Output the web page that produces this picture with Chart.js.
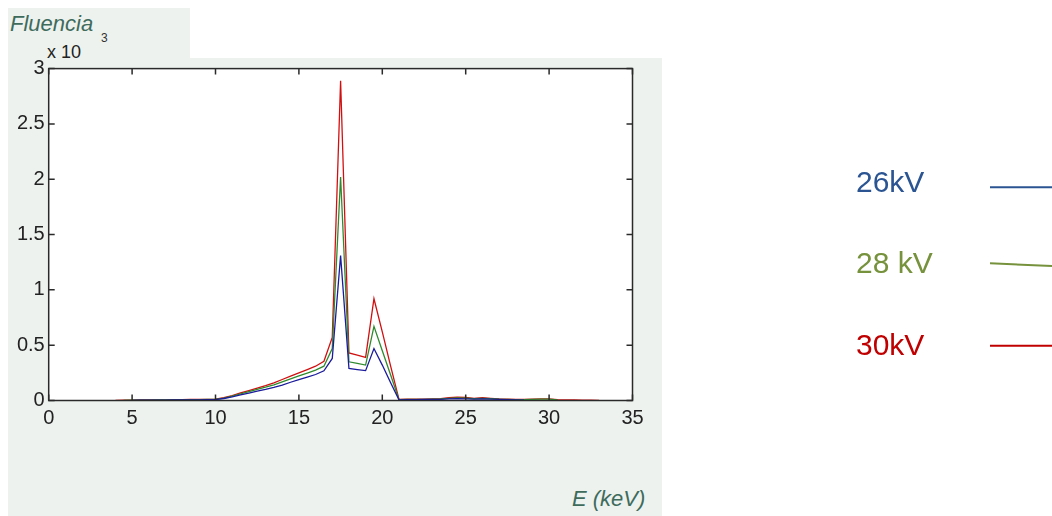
<!DOCTYPE html>
<html>
<head>
<meta charset="utf-8">
<script src="https://cdn.jsdelivr.net/npm/chart.js@4/dist/chart.umd.min.js"></script>
<style>
    html, body { margin: 0; padding: 0; background: #fff; }
    #stage { position: relative; width: 1052px; height: 516px; overflow: hidden; font-family: "Liberation Sans", Arial, sans-serif; }
    .panel { position: absolute; background: #edf2ee; }
    #chart { position: absolute; left: 0; top: 0; }
    .txt { position: absolute; white-space: nowrap; line-height: 1; }
    .leg { position: absolute; font-size: 30px; line-height: 1; }
</style>
</head>
<body>
<div id="stage">
    <div class="panel" style="left:8px; top:8px; width:182px; height:52px;"></div>
    <div class="panel" style="left:8px; top:58px; width:654px; height:458px;"></div>
    <div class="panel" style="left:48px; top:68px; width:585px; height:333px; background:#fff;"></div>

    <div class="txt" style="left:10px; top:13px; font-size:22px; font-style:italic; color:#3e6b5c;">Fluencia</div>
    <div class="txt" style="left:101px; top:32px; font-size:12px; color:#333;">3</div>
    <div class="txt" style="left:47px; top:43px; font-size:18px; color:#222;">x 10</div>
    <div class="txt" style="left:572px; top:488px; font-size:22px; font-style:italic; color:#3e6b5c;">E (keV)</div>

    <canvas id="chart" width="1052" height="516"></canvas>

    <div class="leg" style="left:856px; top:167px; color:#2b5592;">26kV</div>
    <div class="leg" style="left:856px; top:248px; color:#76923c;">28 kV</div>
    <div class="leg" style="left:856px; top:330px; color:#c00000;">30kV</div>
    <svg style="position:absolute; left:0; top:0;" width="1052" height="516">
        <line x1="990" y1="187.3" x2="1052" y2="187.3" stroke="#2b5592" stroke-width="2"/>
        <line x1="990" y1="263.3" x2="1052" y2="266" stroke="#76923c" stroke-width="2"/>
        <line x1="990" y1="345.7" x2="1052" y2="345.7" stroke="#c00000" stroke-width="2"/>
    </svg>
</div>

<script>
// Energy bins (keV)
const energy = [
    4, 4.5, 5, 5.5, 6, 6.5, 7, 7.5, 8, 8.5, 9, 9.5,
    10, 10.5, 11, 11.5, 12, 12.5, 13, 13.5, 14, 14.5, 15, 15.5, 16, 16.5,
    17, 17.5, 18, 18.5, 19, 19.5, 20, 20.5, 21, 21.5,
    22, 22.5, 23, 23.5, 24, 24.5, 25, 25.5, 26, 26.5, 27, 27.5,
    28, 28.5, 29, 29.5, 30, 30.5, 31, 31.5, 32, 32.5, 33,
];

// Fluence (x 10^-3); null where the curve does not run.
const fluence26 = [
    null, null, 0.002, 0.003, 0.003, 0.004, 0.004, 0.005, 0.005, 0.006, 0.006, 0.007,
    0.008, 0.018, 0.033, 0.050, 0.067, 0.084, 0.100, 0.118, 0.140, 0.165, 0.188, 0.212, 0.235, 0.268,
    0.38, 1.31, 0.29, 0.28, 0.27, 0.47, 0.32, 0.16, 0.006, 0.008,
    0.008, 0.009, 0.010, 0.011, 0.014, 0.016, 0.015, 0.012, 0.014, 0.012, 0.010, 0.008,
    0.006, 0.004, null, null, null, null, null, null, null, null, null,
];
const fluence28 = [
    null, 0.002, 0.003, 0.004, 0.004, 0.005, 0.005, 0.006, 0.006, 0.007, 0.008, 0.009,
    0.010, 0.022, 0.040, 0.060, 0.080, 0.100, 0.120, 0.142, 0.168, 0.195, 0.222, 0.248, 0.275, 0.310,
    0.47, 2.02, 0.35, 0.335, 0.32, 0.67, 0.45, 0.23, 0.008, 0.010,
    0.010, 0.011, 0.012, 0.014, 0.020, 0.024, 0.022, 0.016, 0.020, 0.016, 0.012, 0.010,
    0.008, 0.008, 0.010, 0.012, 0.012, 0.006, null, null, null, null, null,
];
const fluence30 = [
    0.002, 0.003, 0.004, 0.005, 0.005, 0.006, 0.006, 0.007, 0.008, 0.009, 0.010, 0.011,
    0.012, 0.025, 0.045, 0.068, 0.090, 0.112, 0.135, 0.160, 0.190, 0.220, 0.250, 0.280, 0.310, 0.355,
    0.57, 2.89, 0.43, 0.41, 0.39, 0.92, 0.62, 0.31, 0.010, 0.012,
    0.012, 0.013, 0.014, 0.016, 0.025, 0.030, 0.028, 0.020, 0.025, 0.020, 0.015, 0.012,
    0.010, 0.010, 0.012, 0.014, 0.015, 0.008, 0.006, 0.005, 0.004, 0.003, 0.002,
];

const xTicks = [0, 5, 10, 15, 20, 25, 30, 35];
const yTicks = [0, 0.5, 1, 1.5, 2, 2.5, 3];

function toPoints(values) {
    return energy.map((e, i) => ({ x: e, y: values[i] }));
}

// Box round the plot area, with short ticks pointing inward on all four sides.
const frameTicks = {
    id: 'frameTicks',
    afterDatasetsDraw(chart) {
        const { ctx, chartArea: a, scales } = chart;
        const len = 6;
        ctx.save();
        ctx.strokeStyle = '#2a2a2a';
        ctx.lineWidth = 1.5;
        ctx.strokeRect(a.left, a.top, a.right - a.left, a.bottom - a.top);
        ctx.beginPath();
        xTicks.forEach((v) => {
            const px = scales.x.getPixelForValue(v);
            ctx.moveTo(px, a.bottom); ctx.lineTo(px, a.bottom - len);
            ctx.moveTo(px, a.top); ctx.lineTo(px, a.top + len);
        });
        yTicks.forEach((v) => {
            const py = scales.y.getPixelForValue(v);
            ctx.moveTo(a.left, py); ctx.lineTo(a.left + len, py);
            ctx.moveTo(a.right, py); ctx.lineTo(a.right - len, py);
        });
        ctx.stroke();
        ctx.restore();
    },
};

const lineStyle = { borderWidth: 1.3, pointRadius: 0, showLine: true, tension: 0, spanGaps: false };
const tickFont = { family: 'Liberation Sans', size: 20 };

new Chart(document.getElementById('chart').getContext('2d'), {
    type: 'scatter',
    data: {
        datasets: [
            { label: '26kV', data: toPoints(fluence26), borderColor: '#1a1a9c', ...lineStyle },
            { label: '28 kV', data: toPoints(fluence28), borderColor: '#2f8a2f', ...lineStyle },
            { label: '30kV', data: toPoints(fluence30), borderColor: '#d01010', ...lineStyle },
        ],
    },
    options: {
        responsive: false,
        animation: false,
        devicePixelRatio: 1,
        layout: { padding: { left: 0, top: 68.6, right: 419.5, bottom: 75.5 } },
        plugins: { legend: { display: false }, tooltip: { enabled: false } },
        scales: {
            x: {
                type: 'linear', min: 0, max: 35,
                afterBuildTicks: (s) => { s.ticks = xTicks.map((v) => ({ value: v })); },
                afterFit: (s) => { s.height = 40; },
                grid: { display: false, drawTicks: false },
                border: { display: false },
                ticks: { padding: 6, color: '#222', font: tickFont, callback: (v) => String(v) },
            },
            y: {
                type: 'linear', min: 0, max: 3,
                afterBuildTicks: (s) => { s.ticks = yTicks.map((v) => ({ value: v })); },
                afterFit: (s) => { s.width = 48.7; },
                grid: { display: false, drawTicks: false },
                border: { display: false },
                ticks: { padding: 4, color: '#222', font: tickFont, callback: (v) => String(v) },
            },
        },
    },
    plugins: [frameTicks],
});
</script>
</body>
</html>
